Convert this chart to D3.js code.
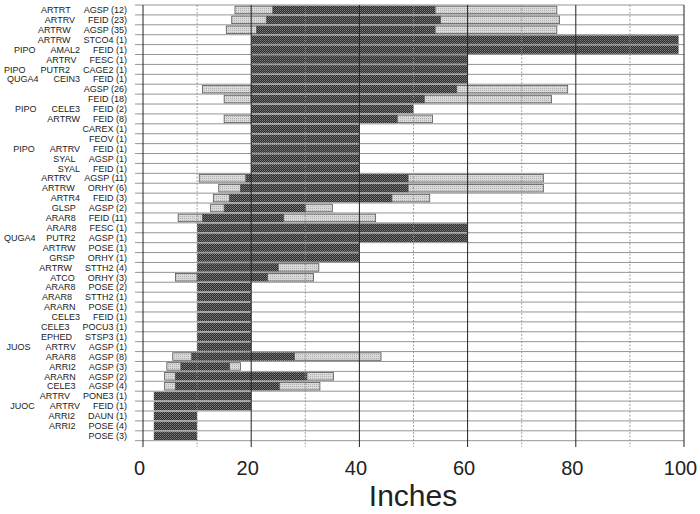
<!DOCTYPE html>
<html>
<head>
<meta charset="utf-8">
<script src="https://cdn.jsdelivr.net/npm/d3@7"></script>
<style>
  html, body { margin: 0; padding: 0; background: #fff; }
  svg { display: block; }
</style>
</head>
<body>
<svg id="chart" width="700" height="514"></svg>
<script>
// ---- data (top to bottom) ----
const col1 = ["","","","","PIPO","","PIPO","QUGA4","","","PIPO","","","","PIPO","","","","","","","","","QUGA4","","","","","","","","","","","JUOS","","","","","","JUOC","","",""];
const col2 = ["ARTRT","ARTRV","ARTRW","ARTRW","AMAL2","ARTRV","PUTR2","CEIN3","","","CELE3","ARTRW","","","ARTRV","SYAL","SYAL","ARTRV","ARTRW","ARTR4","GLSP","ARAR8","ARAR8","PUTR2","ARTRW","GRSP","ARTRW","ATCO","ARAR8","ARAR8","ARARN","CELE3","CELE3","EPHED","ARTRV","ARAR8","ARRI2","ARARN","CELE3","ARTRV","ARTRV","ARRI2","ARRI2",""];
const col3 = ["AGSP (12)","FEID (23)","AGSP (35)","STCO4 (1)","FEID (1)","FESC (1)","CAGE2 (1)","FEID (1)","AGSP (26)","FEID (18)","FEID (2)","FEID (8)","CAREX (1)","FEOV (1)","FEID (1)","AGSP (1)","FEID (1)","AGSP (11)","ORHY (6)","FEID (3)","AGSP (2)","FEID (11)","FESC (1)","AGSP (1)","POSE (1)","ORHY (1)","STTH2 (4)","ORHY (3)","POSE (2)","STTH2 (1)","POSE (1)","FEID (1)","POCU3 (1)","STSP3 (1)","AGSP (1)","AGSP (8)","AGSP (3)","AGSP (2)","AGSP (4)","PONE3 (1)","FEID (1)","DAUN (1)","POSE (4)","POSE (3)"];
// light (left) start, dark start, dark end, light (right) end; null = no light bar
const lightStart = [17,16.4,15.4,null,null,null,null,null,11,15,null,15,null,null,null,null,null,10.4,14,13,12.5,6.5,null,null,null,null,null,6,null,null,null,null,null,null,null,5.5,4.4,4,4,null,null,null,null,null];
const darkStart  = [24,22.8,21,20,20,20,20,20,20,20,20,20,20,20,20,20,20,19,18,16,15,11,10,10,10,10,10,10,10,10,10,10,10,10,10,9,7,6,6,2,2,2,2,2];
const darkEnd    = [54,55,54,99,99,60,60,60,58,52,50,47,40,40,40,40,40,49,49,46,30,26,60,60,40,40,25,23,20,20,20,20,20,20,20,28,16,30.3,25.2,20,20,10,10,10];
const lightEnd   = [76.5,77,76.5,null,null,null,null,null,78.5,75.5,null,53.5,null,null,null,null,null,74,74,53,35,43,null,null,null,null,32.5,31.5,null,null,null,null,null,null,null,44,18,35.2,32.7,null,null,null,null,null];
const tickValues = [0,20,40,60,80,100];
const xTitle = "Inches";

// ---- layout ----
const svg = d3.select("#chart");
const x = d3.scaleLinear().domain([0, 100]).range([143, 684]);
const y = d3.scaleBand().domain(d3.range(col3.length)).range([5, 440.7]).padding(0);
const bw = y.bandwidth();

// patterns
const defs = svg.append("defs");
const pd = defs.append("pattern").attr("id","darkPat").attr("width",2).attr("height",2).attr("patternUnits","userSpaceOnUse");
pd.append("rect").attr("width",2).attr("height",2).attr("fill","#2c2c2c");
pd.append("rect").attr("x",0).attr("y",0).attr("width",1).attr("height",1).attr("fill","#7c7c7c");
pd.append("rect").attr("x",1).attr("y",1).attr("width",1).attr("height",1).attr("fill","#666");
const pl = defs.append("pattern").attr("id","lightPat").attr("width",2).attr("height",2).attr("patternUnits","userSpaceOnUse");
pl.append("rect").attr("width",2).attr("height",2).attr("fill","#dadada");
pl.append("rect").attr("x",0).attr("y",0).attr("width",1).attr("height",1).attr("fill","#b0b0b0");

// horizontal row boundary lines (with ticks extending left of axis)
const bounds = d3.range(col3.length + 1).map(i => 5 + i * bw);
svg.append("g").selectAll("line").data(bounds).join("line")
  .attr("x1", 135).attr("x2", x(100))
  .attr("y1", d => d).attr("y2", d => d)
  .attr("stroke", "#7a7a7a").attr("stroke-width", 0.8);

// light bars
const idx = d3.range(col3.length);
const gL = svg.append("g");
idx.forEach(i => {
  const yy = y(i) + bw * 0.12, hh = bw * 0.76;
  if (lightStart[i] != null) {
    gL.append("rect").attr("x", x(lightStart[i])).attr("y", yy)
      .attr("width", x(darkStart[i]) - x(lightStart[i])).attr("height", hh)
      .attr("fill", "url(#lightPat)").attr("stroke", "#555").attr("stroke-width", 0.8);
  }
  if (lightEnd[i] != null) {
    gL.append("rect").attr("x", x(darkEnd[i])).attr("y", yy)
      .attr("width", x(lightEnd[i]) - x(darkEnd[i])).attr("height", hh)
      .attr("fill", "url(#lightPat)").attr("stroke", "#555").attr("stroke-width", 0.8);
  }
});

// dark bars
svg.append("g").selectAll("rect").data(idx).join("rect")
  .attr("x", i => x(darkStart[i]))
  .attr("y", i => y(i) + 0.7)
  .attr("width", i => x(darkEnd[i]) - x(darkStart[i]))
  .attr("height", bw - 1.4)
  .attr("fill", "url(#darkPat)");

// vertical grid lines (drawn over bars) and ticks below
const grid = d3.range(0, 101, 10);
svg.append("g").selectAll("line").data(grid).join("line")
  .attr("x1", d => x(d)).attr("x2", d => x(d))
  .attr("y1", 5).attr("y2", 447)
  .attr("stroke", d => (d % 20 === 0) ? "#222" : "#8a8a8a")
  .attr("stroke-width", d => (d % 20 === 0) ? 1 : 0.8)
  .attr("stroke-dasharray", d => (d % 20 === 0) ? null : "2,1.5");

// x axis tick labels via axis
const axis = d3.axisBottom(x).tickValues(tickValues).tickSize(0).tickFormat(d3.format("d"));
const gAx = svg.append("g").attr("transform", "translate(-4,475)").call(axis);
gAx.select(".domain").remove();
gAx.selectAll("text")
  .attr("font-family", "'Liberation Sans', Arial, sans-serif")
  .attr("font-size", 20).attr("fill", "#222").attr("y", 0).attr("dy", 0);

// axis title
svg.append("text").attr("x", 413).attr("y", 506)
  .attr("text-anchor", "middle")
  .attr("font-family", "'Liberation Sans', Arial, sans-serif")
  .attr("font-size", 30).attr("fill", "#222").text(xTitle);

// row labels
const gT = svg.append("g")
  .attr("font-family", "'Liberation Sans', Arial, sans-serif")
  .attr("font-size", 9).attr("fill", "#222");
idx.forEach(i => {
  const yb = y(i) + bw / 2 + 3.2;
  const t3 = gT.append("text").attr("x", 127).attr("y", yb).attr("text-anchor", "end").text(col3[i]);
  let end2 = 127 - t3.node().getComputedTextLength() - 13;
  if (col2[i]) {
    const t2 = gT.append("text").attr("x", end2).attr("y", yb).attr("text-anchor", "end").text(col2[i]);
    if (col1[i]) {
      const t1 = gT.append("text").attr("y", yb).attr("text-anchor", "start").text(col1[i]);
      const w1 = t1.node().getComputedTextLength();
      const start1 = Math.max(4, end2 - t2.node().getComputedTextLength() - 15 - w1);
      t1.attr("x", start1);
    }
  }
});
</script>
</body>
</html>
